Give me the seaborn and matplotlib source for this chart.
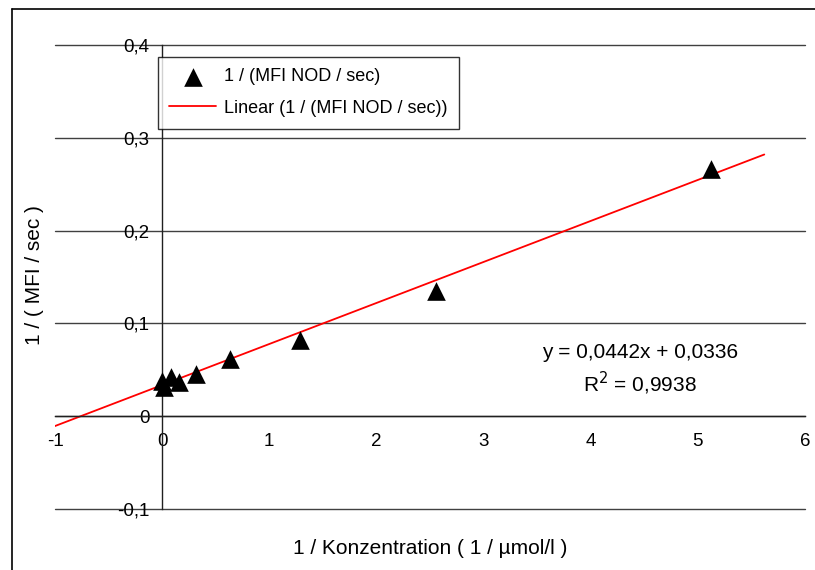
import matplotlib
matplotlib.use("Agg")
import matplotlib.pyplot as plt
import matplotlib.ticker as mticker
from matplotlib.lines import Line2D
import seaborn as sns
import pandas as pd

# data
inv_conc = [0.0, 0.02, 0.08, 0.16, 0.32, 0.63, 1.29, 2.56, 5.12]
inv_mfi = [0.038, 0.031, 0.042, 0.037, 0.045, 0.062, 0.082, 0.135, 0.266]
slope = 0.0442
intercept = 0.0336
r2 = 0.9938
trend_x = [-1.0, 5.62]
x_ticks = [-1, 0, 1, 2, 3, 4, 5, 6]
y_ticks = [-0.1, 0.0, 0.1, 0.2, 0.3, 0.4]

sns.set_theme(style="white")
plt.rcParams['font.family'] = ['Liberation Sans', 'DejaVu Sans']
plt.rcParams['text.color'] = 'black'

df = pd.DataFrame({"x": inv_conc, "y": inv_mfi})
trend = pd.DataFrame({"x": trend_x, "y": [slope * v + intercept for v in trend_x]})

fig = plt.figure(figsize=(8.15, 5.70), dpi=100)
ax = fig.add_axes([55 / 815, 61 / 570, 750 / 815, 464 / 570])

for yv in y_ticks:
    ax.axhline(yv, color="#404040", lw=1.0, zorder=0, clip_on=False)

sns.lineplot(data=trend, x="x", y="y", color="#ff0000", lw=1.3, ax=ax,
             label="Linear (1 / (MFI NOD / sec))", zorder=2)
sns.scatterplot(data=df, x="x", y="y", marker="^", color="black", s=180,
                edgecolor="black", linewidth=0, ax=ax, zorder=3,
                label="1 / (MFI NOD / sec)")

ax.set_xlim(-1, 6)
ax.set_ylim(-0.1, 0.4)
ax.set_xticks(x_ticks)
ax.set_yticks(y_ticks)

def fmt(v, pos):
    if abs(v) < 1e-9:
        return "0"
    s = f"{v:.1f}" if abs(v - round(v)) > 1e-9 else f"{int(round(v))}"
    return s.replace(".", ",")

ax.xaxis.set_major_formatter(mticker.FuncFormatter(fmt))
ax.yaxis.set_major_formatter(mticker.FuncFormatter(fmt))

ax.spines['left'].set_position(('data', 0))
ax.spines['bottom'].set_position(('data', 0))
ax.spines['top'].set_visible(False)
ax.spines['right'].set_visible(False)
for sp in ['left', 'bottom']:
    ax.spines[sp].set_color("#202020")
    ax.spines[sp].set_linewidth(1.0)
ax.tick_params(axis='both', which='major', direction='out', length=4,
               width=1.0, color="#202020", labelsize=13.5, labelcolor="black")
ax.tick_params(axis='x', pad=8)
ax.tick_params(axis='y', pad=5)
ax.set_xlabel("")
ax.set_ylabel("")

fig.text(430 / 815, 1 - 548 / 570, "1 / Konzentration ( 1 / µmol/l )",
         ha="center", va="center", fontsize=15, color="black")
fig.text(35 / 815, 1 - 275 / 570, "1 / ( MFI / sec )", ha="center",
         va="center", rotation=90, fontsize=15, color="black")

ax.text(4.46, 0.069, "y = 0,0442x + 0,0336", ha="center", va="center",
        fontsize=15, color="black")
ax.text(4.46, 0.0355, "R$^2$ = 0,9938", ha="center", va="center",
        fontsize=15, color="black")

h, l = ax.get_legend_handles_labels()
order = [1, 0]
leg = ax.legend([h[i] for i in order], [l[i] for i in order],
                loc="upper left", bbox_to_anchor=(0.137, 0.975),
                borderaxespad=0, frameon=True, fancybox=False,
                edgecolor="black", fontsize=13, handlelength=2.6,
                labelspacing=0.8, borderpad=0.65, handletextpad=0.4)
leg.get_frame().set_linewidth(1.0)
for t in leg.get_texts():
    t.set_color("black")

fig.add_artist(Line2D([12 / 815, 12 / 815], [0, 1 - 9 / 570],
                      transform=fig.transFigure, color="black", lw=1.2))
fig.add_artist(Line2D([12 / 815, 1], [1 - 9 / 570, 1 - 9 / 570],
                      transform=fig.transFigure, color="black", lw=1.2))

fig.savefig("out.png", dpi=100)
